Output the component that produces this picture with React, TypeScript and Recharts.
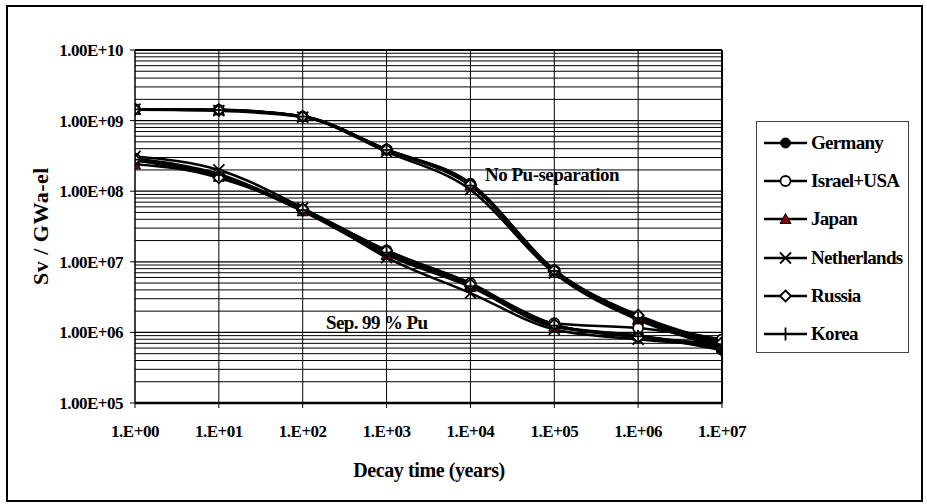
import React from 'react';
import { LineChart, Line, XAxis, YAxis, ReferenceLine } from 'recharts';

const decayYears = [1, 10, 100, 1e3, 1e4, 1e5, 1e6, 1e7];
const yTicks = [1e5, 1e6, 1e7, 1e8, 1e9, 1e10];

const countries = ['Germany', 'Israel+USA', 'Japan', 'Netherlands', 'Russia', 'Korea'];
const markers = ['dot', 'ring', 'triangle', 'cross', 'diamond', 'plus'];

// No Pu-separation (Sv / GWa-el)
const noSepGermany = [1.45e9, 1.42e9, 1.15e9, 3.9e8, 1.3e8, 7.7e6, 1.7e6, 5.6e5];
const noSepIsrael = [1.45e9, 1.42e9, 1.14e9, 3.9e8, 1.25e8, 7.5e6, 1.6e6, 7.9e5];
const noSepJapan = [1.42e9, 1.4e9, 1.13e9, 3.8e8, 1.2e8, 7.3e6, 1.55e6, 6.5e5];
const noSepNetherlands = [1.45e9, 1.38e9, 1.12e9, 3.6e8, 1.05e8, 6.9e6, 1.5e6, 6.3e5];
const noSepRussia = [1.44e9, 1.41e9, 1.15e9, 3.9e8, 1.25e8, 7.6e6, 1.75e6, 7.2e5];
const noSepKorea = [1.44e9, 1.41e9, 1.14e9, 3.85e8, 1.2e8, 7.4e6, 1.6e6, 6.8e5];

// Sep. 99 % Pu
const sepGermany = [2.7e8, 1.65e8, 5.3e7, 1.3e7, 4.6e6, 1.25e6, 9.0e5, 5.6e5];
const sepIsrael = [2.9e8, 1.75e8, 5.5e7, 1.45e7, 5.0e6, 1.35e6, 1.15e6, 7.9e5];
const sepJapan = [2.4e8, 1.6e8, 5.2e7, 1.25e7, 4.4e6, 1.2e6, 9.0e5, 6.0e5];
const sepNetherlands = [3.1e8, 2.0e8, 5.8e7, 1.15e7, 3.6e6, 1.1e6, 8.0e5, 6.5e5];
const sepRussia = [2.8e8, 1.55e8, 5.6e7, 1.45e7, 4.8e6, 1.3e6, 8.5e5, 7.0e5];
const sepKorea = [2.8e8, 1.7e8, 5.4e7, 1.35e7, 4.5e6, 1.25e6, 8.8e5, 6.5e5];

const noSep = [noSepGermany, noSepIsrael, noSepJapan, noSepNetherlands, noSepRussia, noSepKorea];
const sep = [sepGermany, sepIsrael, sepJapan, sepNetherlands, sepRussia, sepKorea];

const data = decayYears.map((t, i) => {
  const row: any = { t };
  countries.forEach((c, ci) => {
    row[c + '_no'] = noSep[ci][i];
    row[c + '_sep'] = sep[ci][i];
  });
  return row;
});

const minorY: number[] = [];
[1e5, 1e6, 1e7, 1e8, 1e9].forEach((d) => {
  for (let m = 2; m <= 9; m++) minorY.push(d * m);
});

const FONT = '"Liberation Serif", "Times New Roman", serif';

const exp2 = (v: number) => {
  const e = Math.round(Math.log10(v));
  return (e < 10 ? '0' : '') + e;
};

function Marker({ kind, cx, cy }: { kind: string; cx: number; cy: number }) {
  switch (kind) {
    case 'dot':
      return <circle cx={cx} cy={cy} r={5} fill="#000" stroke="#000" />;
    case 'ring':
      return <circle cx={cx} cy={cy} r={5} fill="#fff" stroke="#000" strokeWidth={1.8} />;
    case 'triangle':
      return <polygon points={`${cx},${cy - 5.5} ${cx - 5.5},${cy + 4.5} ${cx + 5.5},${cy + 4.5}`} fill="#800000" stroke="#000" strokeWidth={1} />;
    case 'cross':
      return (
        <g stroke="#000" strokeWidth={1.8}>
          <line x1={cx - 5.5} y1={cy - 5.5} x2={cx + 5.5} y2={cy + 5.5} />
          <line x1={cx - 5.5} y1={cy + 5.5} x2={cx + 5.5} y2={cy - 5.5} />
        </g>
      );
    case 'diamond':
      return <polygon points={`${cx},${cy - 5.5} ${cx + 5.5},${cy} ${cx},${cy + 5.5} ${cx - 5.5},${cy}`} fill="#fff" stroke="#000" strokeWidth={1.8} />;
    default:
      return (
        <g stroke="#000" strokeWidth={1.8}>
          <line x1={cx - 6.5} y1={cy} x2={cx + 6.5} y2={cy} />
          <line x1={cx} y1={cy - 6.5} x2={cx} y2={cy + 6.5} />
        </g>
      );
  }
}

const dotFor = (kind: string, name: string) => (p: any) => (
  <Marker key={`${name}-${p.index}`} kind={kind} cx={p.cx} cy={p.cy} />
);

const tickStyle = { fontFamily: FONT, fontWeight: 700, fontSize: 17, letterSpacing: -0.5, fill: '#000' };

export default function App() {
  return (
    <div style={{ position: 'absolute', left: 0, top: 0, width: 927, height: 504, background: '#fff', fontFamily: FONT }}>
      <div style={{ position: 'absolute', left: 6, top: 5, width: 913, height: 493, border: '2px solid #000' }} />
      <div style={{ position: 'absolute', left: 0, top: 0 }}>
        <LineChart width={927} height={504} data={data} margin={{ top: 50, right: 205, bottom: 41, left: 35 }}>
          {minorY.map((v) => (
            <ReferenceLine key={'h' + v} y={v} stroke="#000" strokeWidth={1} />
          ))}
          {yTicks.slice(1, -1).map((v) => (
            <ReferenceLine key={'H' + v} y={v} stroke="#000" strokeWidth={1.3} />
          ))}
          {decayYears.slice(1, -1).map((v) => (
            <ReferenceLine key={'v' + v} x={v} stroke="#000" strokeWidth={1} />
          ))}
          <ReferenceLine y={1e10} stroke="#000" strokeWidth={2} />
          <ReferenceLine x={1e7} stroke="#000" strokeWidth={2} />
          <XAxis
            dataKey="t"
            type="number"
            scale="log"
            domain={[1, 1e7]}
            ticks={decayYears}
            allowDataOverflow
            height={60}
            tickSize={5}
            tickMargin={17}
            stroke="#000"
            axisLine={{ stroke: '#000', strokeWidth: 2.5 }}
            tickLine={{ stroke: '#000' }}
            tick={tickStyle}
            tickFormatter={(v: number) => '1.E+' + exp2(v)}
            interval={0}
          />
          <YAxis
            type="number"
            scale="log"
            domain={[1e5, 1e10]}
            ticks={yTicks}
            allowDataOverflow
            width={100}
            tickSize={5}
            tickMargin={7}
            stroke="#000"
            axisLine={{ stroke: '#000', strokeWidth: 1.5 }}
            tickLine={{ stroke: '#000' }}
            tick={tickStyle}
            tickFormatter={(v: number) => '1.00E+' + exp2(v)}
            interval={0}
          />
          {countries.map((c, i) => (
            <Line
              key={c + '_sep'}
              dataKey={c + '_sep'}
              type="monotone"
              stroke="#000"
              strokeWidth={2.5}
              dot={dotFor(markers[i], c + 's')}
              activeDot={false}
              legendType="none"
              isAnimationActive={false}
            />
          ))}
          {countries.map((c, i) => (
            <Line
              key={c + '_no'}
              dataKey={c + '_no'}
              name={c}
              type="monotone"
              stroke="#000"
              strokeWidth={2.5}
              dot={dotFor(markers[i], c + 'n')}
              activeDot={false}
              isAnimationActive={false}
            />
          ))}
        </LineChart>
      </div>

      <div style={{ position: 'absolute', left: -59, top: 214, width: 200, height: 24, lineHeight: '24px', textAlign: 'center', fontSize: 22, fontWeight: 700, letterSpacing: 0.5, transform: 'rotate(-90deg)' }}>
        Sv / GWa-el
      </div>
      <div style={{ position: 'absolute', left: 329, top: 459, width: 200, lineHeight: '22px', textAlign: 'center', fontSize: 20, fontWeight: 700, letterSpacing: -0.4 }}>
        Decay time (years)
      </div>
      <div style={{ position: 'absolute', left: 485, top: 164, lineHeight: '22px', fontSize: 19, fontWeight: 700, letterSpacing: -0.5, whiteSpace: 'nowrap' }}>
        No Pu-separation
      </div>
      <div style={{ position: 'absolute', left: 326, top: 312, lineHeight: '22px', fontSize: 19, fontWeight: 700, letterSpacing: -0.6, whiteSpace: 'nowrap' }}>
        Sep. 99 % Pu
      </div>

      <div style={{ position: 'absolute', left: 756, top: 121, width: 151, height: 230, border: '1px solid #444', background: '#fff' }}>
        {countries.map((c, i) => (
          <div key={c} style={{ position: 'absolute', left: 0, top: 21 + i * 38.2 - 11, height: 22, width: 151 }}>
            <svg width={52} height={22} style={{ position: 'absolute', left: 5, top: 0 }}>
              <line x1={2} y1={11} x2={45} y2={11} stroke="#000" strokeWidth={2.5} />
              <Marker kind={markers[i]} cx={23.5} cy={11} />
            </svg>
            <span style={{ position: 'absolute', left: 54, top: 0, lineHeight: '22px', fontSize: 19, fontWeight: 700, letterSpacing: -0.7, whiteSpace: 'nowrap' }}>
              {c}
            </span>
          </div>
        ))}
      </div>
    </div>
  );
}
